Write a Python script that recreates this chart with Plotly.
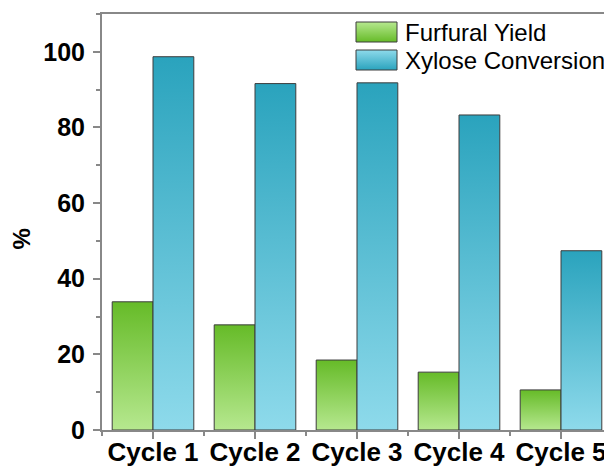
import plotly.graph_objects as go

cycles = ["Cycle 1", "Cycle 2", "Cycle 3", "Cycle 4", "Cycle 5"]
furfural_yield = [33.9, 27.8, 18.5, 15.3, 10.6]
xylose_conversion = [98.7, 91.6, 91.8, 83.3, 47.4]

series = [
    ("Furfural Yield", furfural_yield, -0.4, "#b6e88f", "#66bb28"),
    ("Xylose Conversion", xylose_conversion, 0.0, "#8edaeb", "#2aa3bd"),
]
bar_w = 0.4

fig = go.Figure()
for name, vals, off, light, dark in series:
    for i, v in enumerate(vals):
        x0 = i + off
        fig.add_trace(go.Scatter(
            x=[x0, x0, x0 + bar_w, x0 + bar_w, x0],
            y=[0, v, v, 0, 0],
            mode="lines",
            fill="toself",
            fillgradient=dict(type="vertical", colorscale=[[0, light], [1, dark]]),
            line=dict(color="#3c3c3c", width=1),
            name=name,
            showlegend=False,
            hovertemplate=f"{cycles[i]}<br>{name}: {v}%<extra></extra>",
        ))

# hand-made legend: overlay axes in screen pixel units over the plot area
for k, (name, vals, off, light, dark) in enumerate(series):
    top = 22 + 28 * k
    fig.add_trace(go.Scatter(
        x=[356, 356, 397, 397, 356],
        y=[top + 20, top, top, top + 20, top + 20],
        xaxis="x2", yaxis="y2",
        mode="lines", fill="toself",
        fillgradient=dict(type="vertical", colorscale=[[0, dark], [1, light]]),
        line=dict(color="#3c3c3c", width=1),
        showlegend=False, hoverinfo="skip",
    ))
    fig.add_annotation(
        text=name, xref="x2", yref="y2", x=403, y=top + 10,
        xanchor="left", yanchor="middle", showarrow=False,
        font=dict(size=24, color="black"),
    )

fig.add_annotation(
    text="%", xref="paper", yref="paper", x=-0.157, y=0.46,
    textangle=-90, showarrow=False, xanchor="center", yanchor="middle",
    font=dict(size=24, weight="bold", color="black"),
)

# page body has an 8px margin, so the figure is shifted by 8px;
# the plot runs on past the right edge of the window like the reference
fig.update_layout(
    width=612, height=459,
    margin=dict(l=94, r=8, t=6, b=37, autoexpand=False),
    paper_bgcolor="white",
    plot_bgcolor="white",
    font=dict(family="Liberation Sans, Arial, sans-serif", color="black"),
    showlegend=False,
    xaxis=dict(
        range=[-0.5, 4.5],
        tickmode="array",
        tickvals=list(range(len(cycles))),
        ticktext=cycles,
        ticks="outside", ticklen=7, tickwidth=2, tickcolor="#888888",
        minor=dict(tickmode="array", tickvals=[i - 0.5 for i in range(len(cycles) + 1)],
                   ticks="outside", ticklen=4, tickwidth=2, tickcolor="#888888"),
        showline=True, linecolor="#888888", linewidth=2, mirror=True,
        showgrid=False, zeroline=False,
        tickfont=dict(size=26, weight="bold"),
        ticklabelstandoff=-9,
        automargin=False,
        fixedrange=True,
    ),
    yaxis=dict(
        range=[0, 110],
        tickmode="linear", tick0=0, dtick=20,
        ticks="outside", ticklen=7, tickwidth=2, tickcolor="#888888",
        minor=dict(dtick=10, ticks="outside", ticklen=4, tickwidth=2, tickcolor="#888888"),
        showline=True, linecolor="#888888", linewidth=2,
        showgrid=False, zeroline=False,
        tickfont=dict(size=25, weight="bold"),
        ticklabelstandoff=3,
        automargin=False,
        fixedrange=True,
    ),
    xaxis2=dict(overlaying="x", anchor="y2", range=[102, 612], visible=False, fixedrange=True),
    yaxis2=dict(overlaying="y", anchor="x2", range=[430, 14], visible=False, fixedrange=True),
)

fig.write_html("out.html")
